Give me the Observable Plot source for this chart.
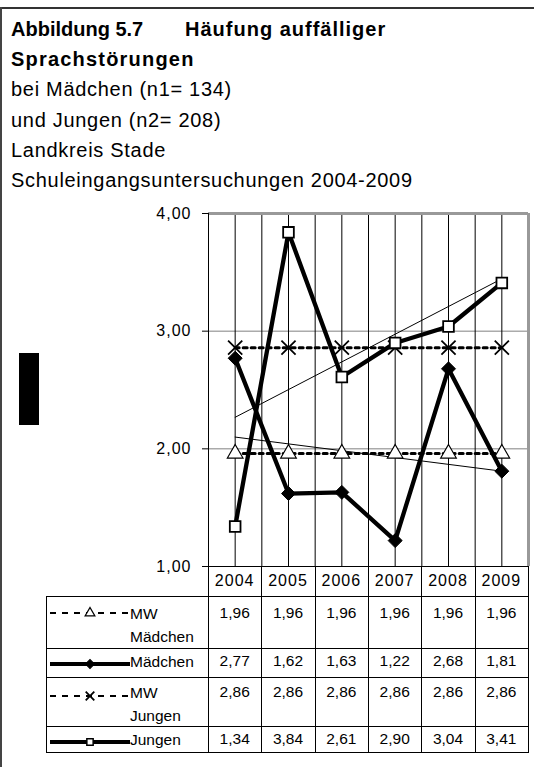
<!DOCTYPE html>
<html><head><meta charset="utf-8">
<script src="https://cdn.jsdelivr.net/npm/d3@7"></script>
<script src="https://cdn.jsdelivr.net/npm/@observablehq/plot@0.6"></script>
<style>
body{margin:0;background:#fff;font-family:"Liberation Sans",Arial,sans-serif;color:#000;}
#wrap{position:relative;width:534px;height:767px;overflow:hidden;background:#fff;}
.abs{position:absolute;}
#title{left:11px;top:14px;font-size:20px;line-height:30.2px;white-space:nowrap;letter-spacing:0.7px;}
#title b{font-weight:bold;}
.cell{position:absolute;text-align:center;font-size:15.5px;line-height:22px;white-space:nowrap;}
.hdr{position:absolute;text-align:center;font-size:16px;letter-spacing:1px;line-height:30px;white-space:nowrap;}
.leg{position:absolute;font-size:15.5px;line-height:23px;white-space:nowrap;}
</style></head><body><div id="wrap"></div>
<script>
// ---- data ----
const years = [2004, 2005, 2006, 2007, 2008, 2009];
const mwMaedchen = [1.96, 1.96, 1.96, 1.96, 1.96, 1.96];
const maedchen = [2.77, 1.62, 1.63, 1.22, 2.68, 1.81];
const mwJungen = [2.86, 2.86, 2.86, 2.86, 2.86, 2.86];
const jungen = [1.34, 3.84, 2.61, 2.90, 3.04, 3.41];
const yTicks = [1, 2, 3, 4];
const seriesLabels = [["MW", "Mädchen"], ["Mädchen"], ["MW", "Jungen"], ["Jungen"]];
const titleBold = ["Abbildung 5.7", "Häufung auffälliger", "Sprachstörungen"];
const titleLines = ["bei Mädchen (n1= 134)", "und Jungen (n2= 208)", "Landkreis Stade", "Schuleingangsuntersuchungen 2004-2009"];

const fmt = d => d.toFixed(2).replace(".", ",");
const rows = vals => years.map((year, i) => ({year, v: vals[i]}));
const bounds = [years[0] - 0.5, ...years.map(y => y + 0.5)];

const wrap = document.getElementById("wrap");

const box = (l, t, w, h, bg) => {
  const d = document.createElement("div");
  d.className = "abs";
  Object.assign(d.style, {left: l + "px", top: t + "px", width: w + "px", height: h + "px", background: bg});
  wrap.appendChild(d);
  return d;
};
// outer frame
box(0, 7, 534, 2, "#333");
box(0, 7, 2, 760, "#444");
box(19, 353, 20, 72, "#000");

// title
const title = document.createElement("div");
title.id = "title"; title.className = "abs";
title.innerHTML = `<b><span style="display:inline-block;width:174px;letter-spacing:0">${titleBold[0]}</span><span style="letter-spacing:1px">${titleBold[1]}</span></b><br><b style="letter-spacing:1.2px">${titleBold[2]}</b><br>` + titleLines.join("<br>");
wrap.appendChild(title);

// chart
const svgTop = 195;
const chart = Plot.plot({
  width: 534, height: 376,
  marginLeft: 208, marginRight: 6, marginTop: 18, marginBottom: 5,
  style: {fontFamily: '"Liberation Sans", Arial, sans-serif', fontSize: "16px", background: "transparent", overflow: "visible"},
  x: {type: "linear", domain: [bounds[0], bounds[bounds.length - 1]], axis: null},
  y: {domain: [1, 4], ticks: yTicks, tickFormat: fmt, tickSize: 6, tickPadding: 11, label: null},
  marks: [
    Plot.ruleY([2, 3], {stroke: "#808080", strokeWidth: 1}),
    Plot.ruleX(years, {stroke: "#000", strokeWidth: 1}),
    Plot.ruleX(bounds.slice(1, -1), {stroke: "#000", strokeWidth: 1}),
    Plot.ruleY([4], {stroke: "#999", strokeWidth: 3}),
    Plot.ruleX([bounds[bounds.length - 1]], {stroke: "#999", strokeWidth: 3}),
    Plot.ruleX([bounds[0]], {stroke: "#000", strokeWidth: 1}),
    Plot.ruleY([1], {stroke: "#000", strokeWidth: 1}),
    Plot.linearRegressionY(rows(maedchen), {x: "year", y: "v", stroke: "#000", strokeWidth: 1, ci: 0}),
    Plot.linearRegressionY(rows(jungen), {x: "year", y: "v", stroke: "#000", strokeWidth: 1, ci: 0}),
    Plot.line(rows(mwMaedchen), {x: "year", y: "v", stroke: "#000", strokeWidth: 3, strokeDasharray: "4,4"}),
    Plot.dot(rows(mwMaedchen), {x: "year", y: "v", symbol: "triangle", r: 5.8, fill: "#fff", stroke: "#000", strokeWidth: 1.2}),
    Plot.line(rows(maedchen), {x: "year", y: "v", stroke: "#000", strokeWidth: 4.3, strokeLinejoin: "round"}),
    Plot.dot(rows(maedchen), {x: "year", y: "v", symbol: "diamond2", r: 6.3, fill: "#000", stroke: "#000", strokeWidth: 1}),
    Plot.line(rows(mwJungen), {x: "year", y: "v", stroke: "#000", strokeWidth: 3, strokeDasharray: "4,4"}),
    Plot.dot(rows(mwJungen), {x: "year", y: "v", symbol: "times", r: 6.5, stroke: "#000", strokeWidth: 1.8}),
    Plot.line(rows(jungen), {x: "year", y: "v", stroke: "#000", strokeWidth: 4.3, strokeLinejoin: "round"}),
    Plot.dot(rows(jungen), {x: "year", y: "v", symbol: "square2", r: 6.8, fill: "#fff", stroke: "#000", strokeWidth: 1.8})
  ]
});
chart.style.position = "absolute";
chart.style.left = "0px";
chart.style.top = svgTop + "px";
chart.querySelectorAll("text").forEach(t => t.style.letterSpacing = "1px");
wrap.appendChild(chart);

const xs = chart.scale("x");
const X = v => xs.apply(v);
const colW = X(years[0] + 0.5) - X(years[0] - 0.5);
const left0 = 46, right0 = X(bounds[bounds.length - 1]), legRight = X(bounds[0]);

// table geometry (layout)
const hdrTop = 566, hdrH = 30;
const rowTops = [596, 648, 677, 726, 752];
const textOff = [1, -3, -1, -3];
const line = (l, t, w, h) => box(l, t, w, h, "#000");
years.forEach(yr => {
  const d = document.createElement("div");
  d.className = "hdr";
  Object.assign(d.style, {left: X(yr - 0.5) + "px", top: hdrTop + "px", width: colW + "px", height: hdrH + "px"});
  d.textContent = yr;
  wrap.appendChild(d);
});
line(legRight, hdrTop, right0 - legRight + 1, 1);
rowTops.forEach(t => line(left0, t, right0 - left0 + 1, 1));
line(left0, rowTops[0], 1, rowTops[4] - rowTops[0] + 1);
bounds.forEach(b => line(Math.round(X(b)), hdrTop, 1, rowTops[4] - hdrTop + 1));

const allSeries = [mwMaedchen, maedchen, mwJungen, jungen];
allSeries.forEach((vals, r) => {
  vals.forEach((v, i) => {
    const d = document.createElement("div");
    d.className = "cell";
    Object.assign(d.style, {left: X(years[i] - 0.5) + "px", top: (rowTops[r] + 5 + textOff[r]) + "px", width: colW + "px"});
    d.textContent = fmt(v);
    wrap.appendChild(d);
  });
  const lg = document.createElement("div");
  lg.className = "leg";
  Object.assign(lg.style, {left: "130px", top: (rowTops[r] + 5 + textOff[r]) + "px"});
  lg.innerHTML = seriesLabels[r].join("<br>");
  wrap.appendChild(lg);
});

// legend keys
const keys = [
  {dash: "6,6", w: 2, sym: d3.symbolTriangle, size: 40, fill: "#fff", sw: 1.3},
  {dash: null, w: 4, sym: d3.symbolSquare, size: 40, fill: "#000", sw: 1, rot: 45},
  {dash: "6,6", w: 2, sym: d3.symbolTimes, size: 50, fill: "none", sw: 1.8},
  {dash: null, w: 4, sym: d3.symbolSquare, size: 40, fill: "#fff", sw: 1.5}
];
const keyY = [613, 664, 696, 742];
keys.forEach((k, r) => {
  const svg = d3.create("svg").attr("width", 84).attr("height", 16)
    .style("position", "absolute").style("left", "48px").style("top", (keyY[r] - 8) + "px");
  svg.append("line").attr("x1", 2).attr("x2", 82).attr("y1", 8).attr("y2", 8)
    .attr("stroke", "#000").attr("stroke-width", k.w).attr("stroke-dasharray", k.dash);
  svg.append("path").attr("d", d3.symbol(k.sym, k.size)())
    .attr("transform", `translate(42,8) rotate(${k.rot || 0})`)
    .attr("fill", k.fill).attr("stroke", "#000").attr("stroke-width", k.sw);
  wrap.appendChild(svg.node());
});
</script></body></html>
